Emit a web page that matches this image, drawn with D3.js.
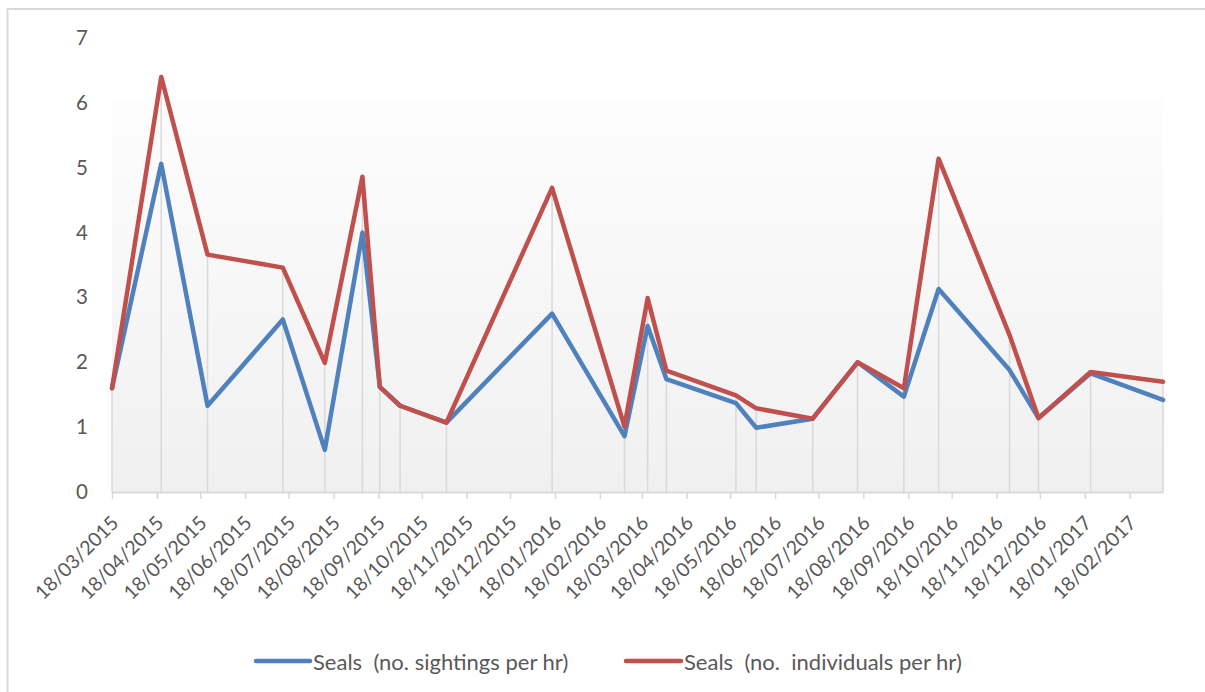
<!DOCTYPE html>
<html>
<head>
<meta charset="utf-8">
<script src="https://cdn.jsdelivr.net/npm/d3@7"></script>
<style>
  html, body { margin: 0; padding: 0; background: #fff; overflow: hidden; }
  svg { display: block; }
  svg text { font-family: Lato, "Open Sans", sans-serif; fill: #595959; white-space: pre; }
</style>
</head>
<body>
<svg id="chart" width="1205" height="692"></svg>
<script>
const dates = ["2015-03-18","2015-04-21","2015-05-23","2015-07-14","2015-08-12","2015-09-07","2015-09-19","2015-10-03","2015-11-04","2016-01-16","2016-03-06","2016-03-22","2016-04-04","2016-05-22","2016-06-05","2016-07-14","2016-08-14","2016-09-15","2016-10-09","2016-11-27","2016-12-17","2017-01-22","2017-03-13"];
const sightings = [1.60,5.06,1.33,2.66,0.65,4.00,1.62,1.33,1.07,2.75,0.86,2.56,1.74,1.37,0.99,1.13,2.00,1.47,3.13,1.88,1.14,1.83,1.42];
const individuals = [1.60,6.40,3.66,3.46,1.99,4.86,1.62,1.33,1.07,4.69,1.01,2.99,1.87,1.49,1.29,1.13,2.00,1.60,5.14,2.42,1.14,1.85,1.70];
const tickDates = ["2015-03-18","2015-04-18","2015-05-18","2015-06-18","2015-07-18","2015-08-18","2015-09-18","2015-10-18","2015-11-18","2015-12-18","2016-01-18","2016-02-18","2016-03-18","2016-04-18","2016-05-18","2016-06-18","2016-07-18","2016-08-18","2016-09-18","2016-10-18","2016-11-18","2016-12-18","2017-01-18","2017-02-18"];
const yTicks = [0,1,2,3,4,5,6,7];
const seriesNames = ["Seals  (no. sightings per hr)", "Seals  (no.  individuals per hr)"];
const seriesColors = ["#4f81bd", "#c0504d"];

const parse = d3.utcParse("%Y-%m-%d");
const fmt = d3.utcFormat("%d/%m/%Y");
const dts = dates.map(parse);
const tks = tickDates.map(parse);

const svg = d3.select("#chart");
const pLeft = 112, pRight = 1163, pTop = 38, pBottom = 492;

const x = d3.scaleUtc().domain([dts[0], dts[dts.length - 1]]).range([pLeft, pRight]);
const y = d3.scaleLinear().domain([0, 7]).range([pBottom, pTop]);

// outer chart border (top and left edges visible)
svg.append("path").attr("d", "M7.5,700 V9 H1220")
  .attr("fill", "none").attr("stroke", "#d9d9d9").attr("stroke-width", 2);

// plot area gradient
const defs = svg.append("defs");
const grad = defs.append("linearGradient").attr("id", "pg").attr("x1", 0).attr("y1", 0).attr("x2", 0).attr("y2", 1);
grad.append("stop").attr("offset", "0%").attr("stop-color", "#fdfdfd");
grad.append("stop").attr("offset", "100%").attr("stop-color", "#f0f0f0");
svg.append("rect").attr("x", pLeft).attr("y", 98).attr("width", pRight - pLeft).attr("height", pBottom - 98)
  .attr("fill", "url(#pg)");

// drop lines
const data = dts.map((d, i) => ({ d, a: sightings[i], b: individuals[i] }));
svg.append("g").selectAll("line").data(data).join("line")
  .attr("x1", d => x(d.d)).attr("x2", d => x(d.d))
  .attr("y1", d => y(Math.max(d.a, d.b))).attr("y2", y(0))
  .attr("stroke", "#d9d9d9").attr("stroke-width", 1.5);

// x axis
const xAxis = svg.append("g").attr("transform", `translate(0,${pBottom})`)
  .call(d3.axisBottom(x).tickValues(tks).tickFormat(fmt).tickSize(7).tickSizeOuter(0));
xAxis.attr("font-size", null).attr("font-family", null);
xAxis.select(".domain").attr("stroke", "#d9d9d9").attr("stroke-width", 2);
xAxis.selectAll(".tick line").attr("stroke", "#d9d9d9").attr("stroke-width", 1.5);
xAxis.selectAll(".tick text")
  .style("font-size", "19.5px").attr("fill", "#595959")
  .attr("text-anchor", "end").attr("dy", null).attr("y", 0)
  .attr("transform", "translate(2,27) rotate(-45)")
  .attr("dominant-baseline", "central");

// y axis (labels only)
const yAxis = svg.append("g").attr("transform", `translate(${pLeft},0)`)
  .call(d3.axisLeft(y).tickValues(yTicks).tickFormat(d3.format("d")).tickSize(0).tickPadding(24));
yAxis.attr("font-size", null).attr("font-family", null);
yAxis.select(".domain").remove();
yAxis.selectAll(".tick text").style("font-size", "20.5px").attr("fill", "#595959");

// lines
const lineA = d3.line().x(d => x(d.d)).y(d => y(d.a));
const lineB = d3.line().x(d => x(d.d)).y(d => y(d.b));
svg.append("path").datum(data).attr("d", lineA).attr("fill", "none")
  .attr("stroke", seriesColors[0]).attr("stroke-width", 4.5).attr("stroke-linejoin", "round").attr("stroke-linecap", "round");
svg.append("path").datum(data).attr("d", lineB).attr("fill", "none")
  .attr("stroke", seriesColors[1]).attr("stroke-width", 4.5).attr("stroke-linejoin", "round").attr("stroke-linecap", "round");

// legend
const legendItems = [{ x0: 256, x1: 310, tx: 313 }, { x0: 626, x1: 681, tx: 684 }];
const lg = svg.append("g");
legendItems.forEach((it, i) => {
  lg.append("line").attr("x1", it.x0).attr("x2", it.x1).attr("y1", 661).attr("y2", 661)
    .attr("stroke", seriesColors[i]).attr("stroke-width", 4.5).attr("stroke-linecap", "round");
  lg.append("text").attr("x", it.tx).attr("y", 661).attr("dominant-baseline", "central")
    .style("font-size", "22px").text(seriesNames[i]);
});
</script>
</body>
</html>
